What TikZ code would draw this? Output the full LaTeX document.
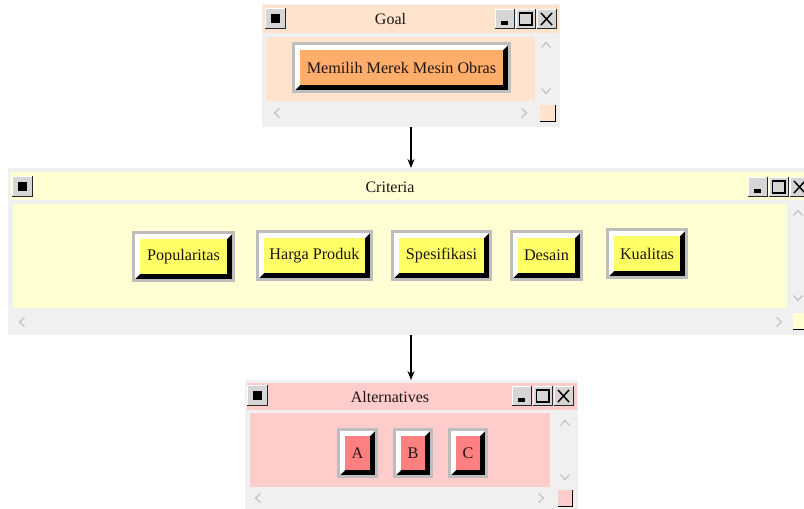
\documentclass[tikz,border=0pt]{standalone}
\usepackage{fontspec}
\setmainfont{Liberation Serif}
\usetikzlibrary{arrows.meta}
\definecolor{framegray}{HTML}{F0F0F0}
\definecolor{btnframe}{HTML}{BDBDBD}
\definecolor{tbgray}{HTML}{D6D6D6}
\definecolor{chevgray}{HTML}{C4C4C4}
\definecolor{peach}{HTML}{FFE3CC}
\definecolor{orangefill}{HTML}{FFAD6A}
\definecolor{lyellow}{HTML}{FFFFD4}
\definecolor{yellowfill}{HTML}{FFFF66}
\definecolor{lpink}{HTML}{FFCCCC}
\definecolor{pinkfill}{HTML}{FF8080}
\definecolor{txt}{HTML}{1E1410}
\tikzset{
  winframe/.style={rectangle, fill=framegray, draw=none, inner sep=0pt, outer sep=0pt},
  btntext/.style={text=txt, font=\fontsize{16.2}{18}\selectfont, inner sep=0pt},
  titletext/.style={text=txt, font=\fontsize{16}{18}\selectfont, inner sep=0pt},
  chev/.style={draw=chevgray, line width=1.3pt},
  arr/.style={draw=black, line width=1.3pt, -{Stealth[length=9pt,width=7pt]}},
}
% big 3D button: name, x1, y1, x2, y2, fill, text
\newcommand\bigbtn[7]{%
  \fill[btnframe] (#2,#3) rectangle (#4,#5);
  \fill[black] (#2+3,#3+3) rectangle (#4-3,#5-3);
  \fill[white] (#2+3,#3+3) -- (#4-3,#3+3) -- (#4-8,#3+8) -- (#2+8,#3+8) -- (#2+8,#5-8) -- (#2+3,#5-3) -- cycle;
  \fill[#6] (#2+8,#3+8) rectangle (#4-8,#5-8);
  \node[btntext] (#1) at ({(#2+#4)/2},{(#3+#5)/2}) {#7};
}
% small title-bar button box: x1,y1,x2,y2
\newcommand\tbbox[4]{%
  \fill[tbgray] (#1,#2) rectangle (#3,#4);
  \draw[white, line width=1pt] (#1+0.5,#4) -- (#1+0.5,#2+0.5) -- (#3,#2+0.5);
  \draw[black!85, line width=1.4pt] (#1,#4-0.7) -- (#3-0.7,#4-0.7) -- (#3-0.7,#2);
}
% left close-box: x1,y1
\newcommand\closebox[2]{%
  \tbbox{#1}{#2}{#1+21}{#2+21}
  \fill[black] (#1+6,#2+6) rectangle (#1+15,#2+15);
}
% three right buttons: x1,y1 (each 20 wide, 20 high)
\newcommand\threebtns[2]{%
  \tbbox{#1}{#2}{#1+20}{#2+20}
  \tbbox{#1+21}{#2}{#1+41}{#2+20}
  \tbbox{#1+42}{#2}{#1+62}{#2+20}
  \fill[black] (#1+6,#2+12) rectangle (#1+13,#2+16);
  \draw[black, line width=1.2pt] (#1+24.5,#2+4) rectangle (#1+37,#2+16);
  \draw[black, line width=1.6pt] (#1+25.5,#2+4) -- (#1+36,#2+4);
  \draw[black, line width=1.5pt] (#1+46,#2+4) -- (#1+57,#2+16) (#1+57,#2+4) -- (#1+46,#2+16);
}
% chevrons
\newcommand\chevup[2]{\draw[chev] (#1-4.5,#2+2.5) -- (#1,#2-2.5) -- (#1+4.5,#2+2.5);}
\newcommand\chevdown[2]{\draw[chev] (#1-4.5,#2-2.5) -- (#1,#2+2.5) -- (#1+4.5,#2-2.5);}
\newcommand\chevleft[2]{\draw[chev] (#1+2.5,#2-4.5) -- (#1-2.5,#2) -- (#1+2.5,#2+4.5);}
\newcommand\chevright[2]{\draw[chev] (#1-2.5,#2-4.5) -- (#1+2.5,#2) -- (#1-2.5,#2+4.5);}
% corner box: x1,y1,x2,y2,color
\newcommand\cornerbox[5]{%
  \fill[#5] (#1,#2) rectangle (#3,#4);
  \draw[black, line width=1.4pt] (#1,#4-0.7) -- (#3-0.7,#4-0.7) -- (#3-0.7,#2);
}
\begin{document}
\begin{tikzpicture}[x=1pt,y=-1pt]
\useasboundingbox (0,0) rectangle (804,509);
\fill[white] (0,0) rectangle (804,509);

% ---------- Goal window ----------
\node[winframe, minimum width=298pt, minimum height=123pt, anchor=north west] (goalwin) at (262,4) {};
\fill[peach] (263,5) rectangle (559,33);
\fill[peach] (266,37) rectangle (535,101);
\closebox{265}{8}
\threebtns{495}{9}
\node[titletext] (goaltitle) at (390.5,19.5) {Goal};
\chevup{546}{45}
\chevdown{546}{91}
\chevleft{277}{113}
\chevright{524}{113}
\cornerbox{540}{105}{556}{122}{peach}
\bigbtn{goal}{292}{42}{511}{93}{orangefill}{Memilih Merek Mesin Obras}

% ---------- Criteria window ----------
\node[winframe, minimum width=810pt, minimum height=167pt, anchor=north west] (critwin) at (8,168) {};
\fill[lyellow] (10,172) rectangle (815,200);
\fill[lyellow] (13,204) rectangle (787,308);
\closebox{12}{176}
\threebtns{748}{177}
\node[titletext] (crittitle) at (390,187.5) {Criteria};
\chevup{798}{213}
\chevdown{798}{298}
\chevleft{22}{322}
\chevright{779}{322}
\cornerbox{793}{313}{815}{330}{lyellow}
\bigbtn{c1}{132}{231}{235}{282}{yellowfill}{Popularitas}
\bigbtn{c2}{256}{230}{373}{281}{yellowfill}{Harga Produk}
\bigbtn{c3}{391}{230}{492}{281}{yellowfill}{Spesifikasi}
\bigbtn{c4}{510}{230}{583}{281}{yellowfill}{Desain}
\bigbtn{c5}{606}{228}{688}{279}{yellowfill}{Kualitas}

% ---------- Alternatives window ----------
\node[winframe, minimum width=333pt, minimum height=129pt, anchor=north west] (altwin) at (245,380) {};
\fill[lpink] (247,383) rectangle (577,410);
\fill[lpink] (250,413) rectangle (550,487);
\closebox{247}{385}
\threebtns{512}{386}
\node[titletext] (alttitle) at (390,397.5) {Alternatives};
\chevup{565}{423}
\chevdown{565}{477}
\chevleft{258}{498}
\chevright{541}{498}
\cornerbox{558}{490}{573}{507}{lpink}
\bigbtn{a1}{337}{428}{378}{478}{pinkfill}{A}
\bigbtn{a2}{393}{428}{433}{478}{pinkfill}{B}
\bigbtn{a3}{448}{428}{488}{478}{pinkfill}{C}

% ---------- connectors ----------
\draw[arr] (goalwin.south) -- (goalwin.south |- critwin.north);
\draw[arr] (goalwin.south |- critwin.south) -- (altwin.north -| goalwin.south);
\end{tikzpicture}
\end{document}
